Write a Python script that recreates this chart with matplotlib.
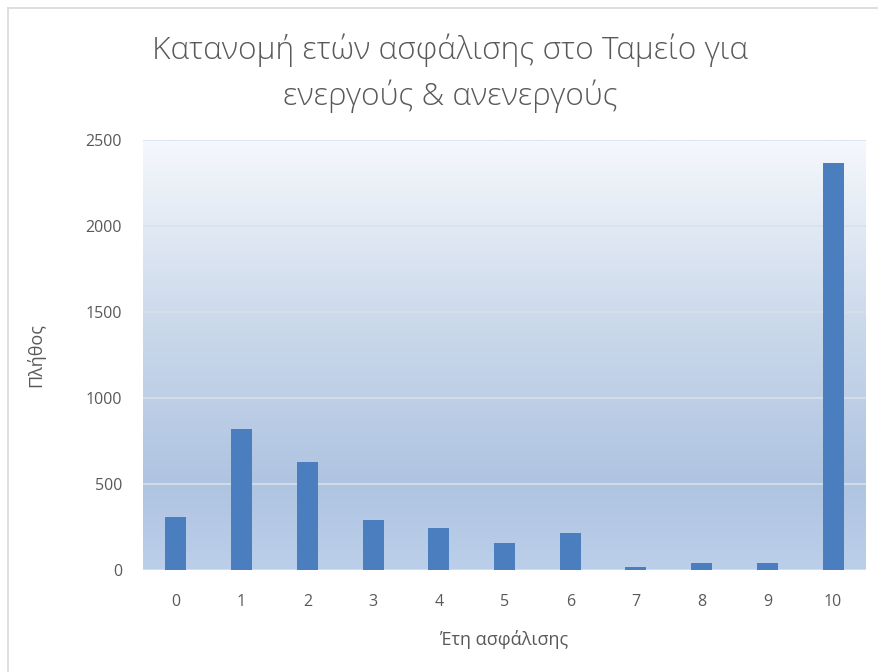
import numpy as np
import matplotlib.pyplot as plt
from matplotlib.colors import LinearSegmentedColormap
from matplotlib.lines import Line2D

plt.rcParams['font.family'] = ['Open Sans', 'DejaVu Sans']

# Data
years = ["0", "1", "2", "3", "4", "5", "6", "7", "8", "9", "10"]
counts = [305, 820, 625, 290, 240, 155, 215, 15, 35, 35, 2365]
y_ticks = [0, 500, 1000, 1500, 2000, 2500]

title = "Κατανομή ετών ασφάλισης στο Ταμείο για\nενεργούς & ανενεργούς"
x_label = "Έτη ασφάλισης"
y_label = "Πλήθος"

text_color = "#595959"
bar_color = "#4A7EBF"

fig = plt.figure(figsize=(8.79, 6.72), dpi=100)
fig.patch.set_facecolor("white")

# chart border (left and top edges visible in the screenshot)
W, H = 879, 672
fig.add_artist(Line2D([8 / W, 8 / W], [0, 1 - 8 / H], transform=fig.transFigure,
                      color="#D9D9D9", lw=1.2))
fig.add_artist(Line2D([8 / W, 1], [1 - 8 / H, 1 - 8 / H], transform=fig.transFigure,
                      color="#D9D9D9", lw=1.2))

ax = fig.add_axes([143 / W, 1 - 569.5 / H, 723 / W, 429.5 / H])
ax.set_facecolor("none")

# gradient plot-area fill: light at top, blue near the bottom
grad = LinearSegmentedColormap.from_list(
    "bg", [(0.0, "#BBCFEA"), (0.2, "#AFC4E1"), (0.55, "#C9D7EA"), (1.0, "#F5F8FC")])
ax.imshow(np.linspace(0, 1, 256).reshape(-1, 1)[::-1], cmap=grad, aspect="auto",
          extent=(0, 1, 0, 1), transform=ax.transAxes, zorder=0)

x = np.arange(len(years))
ax.bar(x, counts, width=0.32, color=bar_color, zorder=3)

ax.set_xlim(-0.5, len(years) - 0.5)
ax.set_ylim(0, 2500)
ax.set_yticks(y_ticks)
ax.set_xticks(x)
ax.set_xticklabels(years)
ax.yaxis.grid(True, color="#D8E0EA", lw=1.2, zorder=1)
ax.set_axisbelow(False)
for s in ax.spines.values():
    s.set_visible(False)
ax.tick_params(length=0, colors=text_color, labelsize=11.5)
ax.tick_params(axis="y", pad=15)
ax.tick_params(axis="x", pad=18)

ax.set_xlabel(x_label, fontsize=13, color=text_color, labelpad=14)
ax.set_ylabel(y_label, fontsize=13, color=text_color, labelpad=29)

fig.text(0.512, 1 - 73 / H, title, ha="center", va="center", fontsize=22.8,
         color=text_color, fontweight="light", linespacing=1.5)

fig.savefig("out.png", dpi=100)
